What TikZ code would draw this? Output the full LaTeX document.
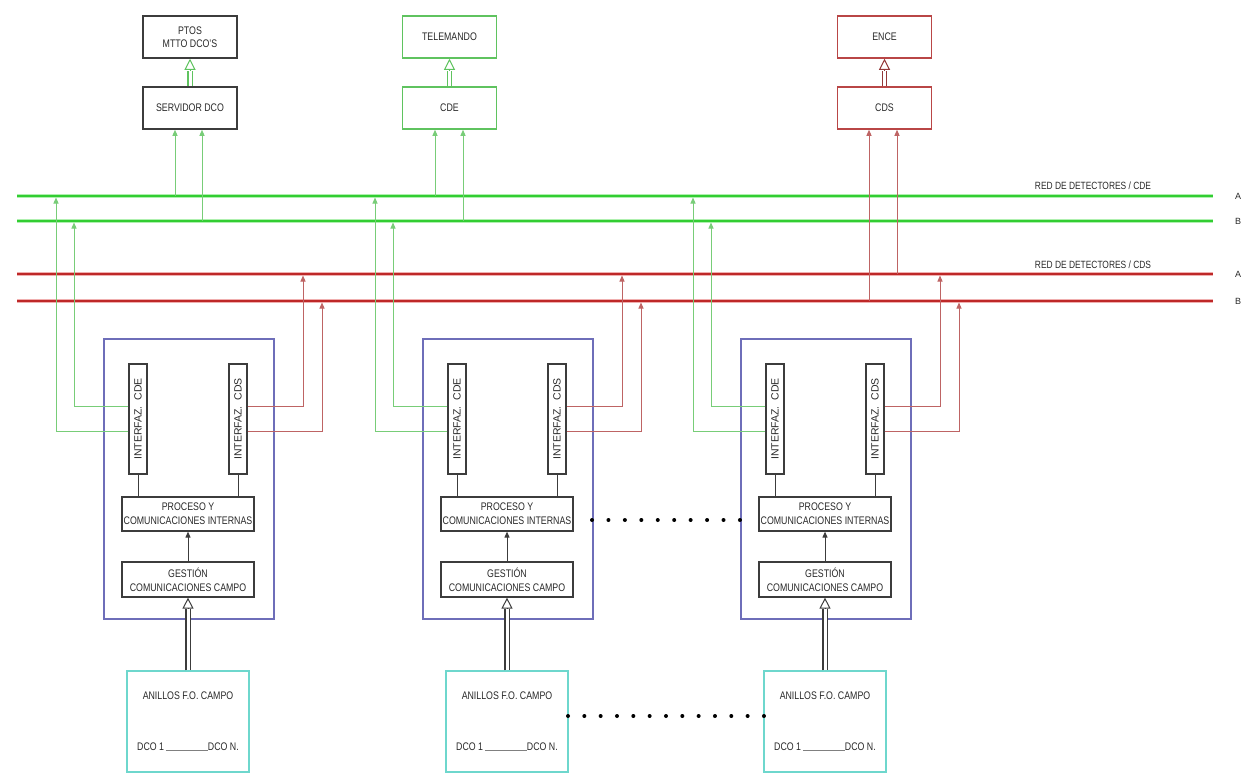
\documentclass[tikz,border=0pt]{standalone}
\usepackage{fontspec}
\setmainfont[FakeStretch=0.8]{Liberation Sans}
\newfontfamily\wfont{Liberation Sans}
\usetikzlibrary{arrows.meta,calc}
\definecolor{gbus}{RGB}{50,205,50}
\definecolor{ghalo}{RGB}{175,240,175}
\definecolor{gthin}{RGB}{120,205,120}
\definecolor{gbox}{RGB}{95,195,95}
\definecolor{rbus}{RGB}{190,40,40}
\definecolor{rhalo}{RGB}{240,175,175}
\definecolor{rthin}{RGB}{190,100,100}
\definecolor{rbox}{RGB}{185,70,70}
\definecolor{modc}{RGB}{110,110,185}
\definecolor{cyanc}{RGB}{110,215,205}
\definecolor{txt}{RGB}{40,40,40}
\definecolor{dk}{RGB}{60,60,60}
\tikzset{
 topbox/.style={draw, line width=1.5pt, minimum width=94pt, minimum height=42pt, inner sep=0pt, align=center},
 ibox/.style={draw=dk, line width=1.2pt, minimum width=18pt, minimum height=110pt, inner sep=0pt},
 pbox/.style={draw=dk, line width=1.2pt, minimum width=132pt, minimum height=34pt, inner sep=0pt, align=center, font=\fontsize{11}{14}\selectfont},
 modbox/.style={draw=modc, line width=1.2pt, minimum width=170pt, minimum height=280pt, inner sep=0pt},
 anibox/.style={draw=cyanc, line width=1.5pt, minimum width=122pt, minimum height=101pt, inner sep=0pt, align=center, font=\fontsize{11}{14}\selectfont},
 gbusline/.style={gbus, line width=2.4pt, preaction={draw=ghalo, line width=4.4pt}},
 rbusline/.style={rbus, line width=2.4pt, preaction={draw=rhalo, line width=4.4pt}},
 gline/.style={gthin, line width=1pt},
 rline/.style={rthin, line width=1pt},
 kline/.style={dk, line width=1pt},
 arr/.style={-{Triangle[length=6pt,width=5pt]}},
 dline/.style={line width=1.1pt, double=white, double distance=3pt},
 openarr/.style={line width=1pt, -{Triangle[open, length=11pt, width=11pt]}},
 lbl/.style={inner sep=0pt, font=\fontsize{10.5}{12}\selectfont},
}
\begin{document}
\begin{tikzpicture}[x=1pt,y=-1pt, font=\fontsize{11}{13}\selectfont, text=txt]
\useasboundingbox (0,0) rectangle (1254,774);

% top boxes
\node[topbox, draw=dk] (ptos) at (190,37) {PTOS\\MTTO DCO'S};
\node[topbox, draw=dk] (srv) at (190,108) {SERVIDOR DCO};
\node[topbox, draw=gbox] (tele) at (449.5,37) {TELEMANDO};
\node[topbox, draw=gbox] (cde) at (449.5,108) {CDE};
\node[topbox, draw=rbox] (ence) at (884.5,37) {ENCE};
\node[topbox, draw=rbox] (cds) at (884.5,108) {CDS};

% open arrows between top boxes
\draw[dline, gbox] (srv.north) -- ([yshift=-12pt]ptos.south);
\draw[openarr, gbox] ([yshift=-12pt]ptos.south) -- (ptos.south);
\draw[dline, gbox] (cde.north) -- ([yshift=-12pt]tele.south);
\draw[openarr, gbox] ([yshift=-12pt]tele.south) -- (tele.south);
\draw[dline, rbox!80!black] (cds.north) -- ([yshift=-12pt]ence.south);
\draw[openarr, rbox!80!black] ([yshift=-12pt]ence.south) -- (ence.south);

% buses
\coordinate (gAl) at (17,196); \coordinate (gAr) at (1213,196);
\coordinate (gBl) at (17,221); \coordinate (gBr) at (1213,221);
\coordinate (rAl) at (17,274); \coordinate (rAr) at (1213,274);
\coordinate (rBl) at (17,301); \coordinate (rBr) at (1213,301);
\draw[gbusline] (gAl) -- (gAr);
\draw[gbusline] (gBl) -- (gBr);
\draw[rbusline] (rAl) -- (rAr);
\draw[rbusline] (rBl) -- (rBr);

\node[lbl] (lcde) at (1093,186) {RED DE DETECTORES / CDE};
\node[lbl] (lcds) at (1093,265) {RED DE DETECTORES / CDS};
\node[lbl, font=\wfont\fontsize{9}{10}\selectfont] (la1) at (1238,196) {A};
\node[lbl, font=\wfont\fontsize{9}{10}\selectfont] (lb1) at (1238,221) {B};
\node[lbl, font=\wfont\fontsize{9}{10}\selectfont] (la2) at (1238,274) {A};
\node[lbl, font=\wfont\fontsize{9}{10}\selectfont] (lb2) at (1238,301) {B};

% taps to top boxes
\coordinate (s1) at (175,196); \coordinate (s2) at (202,221);
\coordinate (c1) at (435,196); \coordinate (c2) at (463,221);
\coordinate (d1) at (869,301); \coordinate (d2) at (897,274);
\draw[gline,arr] (s1) -- (s1 |- srv.south);
\draw[gline,arr] (s2) -- (s2 |- srv.south);
\draw[gline,arr] (c1) -- (c1 |- cde.south);
\draw[gline,arr] (c2) -- (c2 |- cde.south);
\draw[rline,arr] (d1) -- (d1 |- cds.south);
\draw[rline,arr] (d2) -- (d2 |- cds.south);

% modules
\foreach \i/\dx in {1/0,2/319,3/637}{
  \node[modbox] (mod\i) at (189+\dx,479) {};
  \node[ibox] (icde\i) at (138+\dx,419) {\rotatebox{90}{\wfont\fontsize{10.5}{12}\selectfont INTERFAZ.\ \ CDE}};
  \node[ibox] (icds\i) at (238+\dx,419) {\rotatebox{90}{\wfont\fontsize{10.5}{12}\selectfont INTERFAZ.\ \ CDS}};
  \node[pbox] (pro\i) at (188+\dx,514) {PROCESO Y\\COMUNICACIONES INTERNAS};
  \node[pbox, minimum height=35pt] (ges\i) at (188+\dx,579.5) {GESTIÓN\\COMUNICACIONES CAMPO};
  \node[anibox] (ani\i) at (188+\dx,721.5) {ANILLOS F.O. CAMPO\\[37pt]DCO 1\,\textcolor{gray}{\rule{42pt}{0.5pt}}DCO N.};
  \draw[kline] (icde\i.south) -- (icde\i.south |- pro\i.north);
  \draw[kline] (icds\i.south) -- (icds\i.south |- pro\i.north);
  \draw[kline,arr] (ges\i.north) -- (pro\i.south);
  \draw[dline, dk] (ani\i.north) -- ([yshift=-11pt]ges\i.south);
  \draw[openarr, dk] ([yshift=-11pt]ges\i.south) -- (ges\i.south);
  \draw[gline,arr] ([yshift=13pt]icde\i.west) -| (74+\dx,222.5);
  \draw[gline,arr] ([yshift=-12pt]icde\i.west) -| (56+\dx,197.5);
  \draw[rline,arr] ([yshift=13pt]icds\i.east) -| (303+\dx,275.5);
  \draw[rline,arr] ([yshift=-12pt]icds\i.east) -| (322+\dx,302.5);
}

% continuation dots
\foreach \k in {0,...,9} \fill[black] (592+\k*16.44,520) circle (2pt);
\foreach \k in {0,...,12} \fill[black] (568+\k*16.33,716) circle (2pt);
\end{tikzpicture}
\end{document}
